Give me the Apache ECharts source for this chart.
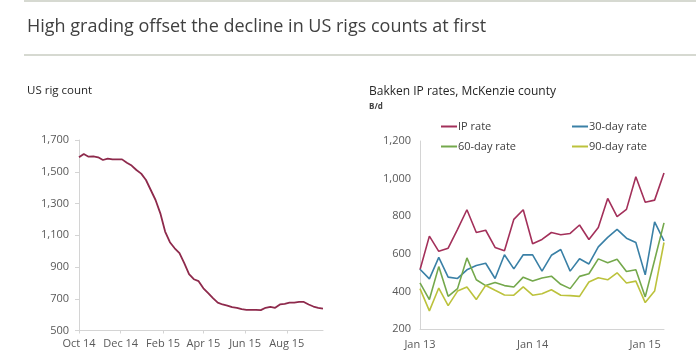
<!DOCTYPE html>
<html><head><meta charset="utf-8">
<script src="https://cdn.jsdelivr.net/npm/echarts@6/dist/echarts.min.js"></script>
<style>html,body{margin:0;padding:0;background:#fff}#c{width:696px;height:361px}</style>
</head><body><div id="c"></div>
<script>
// ---- Left panel: US rig count (weekly) ----
const rigStartDate = '2014-10-01';
const rigCount = [1591,1612,1595,1597,1591,1574,1583,1578,1578,1578,1557,1539,1511,1488,1448,1385,1322,1238,1123,1056,1018,987,924,855,823,811,766,735,704,676,664,657,647,643,634,630,630,630,628,643,649,643,664,668,676,676,680,680,664,651,643,638];
const rigTickDates = ['2014-10-01','2014-12-01','2015-02-01','2015-04-01','2015-06-01','2015-08-01'];
const rigTickLabels = ['Oct 14','Dec 14','Feb 15','Apr 15','Jun 15','Aug 15'];

// ---- Right panel: Bakken IP rates (monthly) ----
const bakkenMonths = ['Jan 13','Feb 13','Mar 13','Apr 13','May 13','Jun 13','Jul 13','Aug 13','Sep 13','Oct 13','Nov 13','Dec 13',
  'Jan 14','Feb 14','Mar 14','Apr 14','May 14','Jun 14','Jul 14','Aug 14','Sep 14','Oct 14','Nov 14','Dec 14',
  'Jan 15','Feb 15','Mar 15'];
const ipRate = [516,695,614,631,731,835,714,726,635,617,784,835,654,677,714,702,709,754,677,740,895,798,837,1010,875,886,1030];
const rate30 = [519,468,582,477,470,516,539,551,470,596,521,596,595,509,593,624,509,575,547,638,688,731,684,661,489,770,670];
const rate60 = [446,358,533,375,416,579,463,432,449,432,425,477,456,472,482,439,416,481,495,574,554,572,507,516,372,568,765];
const rate90 = [416,298,419,326,403,425,358,433,407,382,381,425,381,389,410,381,379,375,451,474,463,500,446,456,342,403,661];

const DAY = 86400000;
const t0 = new Date(rigStartDate + 'T00:00:00Z').getTime();
// x = days since start date
const rigData = rigCount.map((v, i) => [i * 7, v]);
const tickDays = rigTickDates.map(d => Math.round((new Date(d + 'T00:00:00Z').getTime() - t0) / DAY));
const tickLabelOf = {};
tickDays.forEach((t, i) => { tickLabelOf[t] = rigTickLabels[i]; });

const FONT = 'Open Sans';
const labelColor = '#595959';
const axisColor = '#d4d4d4';
const fmt = v => v.toLocaleString('en-US');

const chart = echarts.init(document.getElementById('c'), null, {renderer: 'canvas'});
const legendBase = {
  icon: 'rect', itemWidth: 16, itemHeight: 2, padding: 0,
  textStyle: {fontFamily: FONT, fontSize: 11, color: '#404040', padding: [0, 0, 0, -4]}
};
chart.setOption({
  animation: false,
  textStyle: {fontFamily: FONT},
  title: [
    {text: 'High grading offset the decline in US rigs counts at first', left: 27, top: 18, padding: 0,
     textStyle: {fontFamily: FONT, fontSize: 18, fontWeight: 'normal', color: '#404040'}},
    {text: 'US rig count', left: 27, top: 85, padding: 0,
     textStyle: {fontFamily: FONT, fontSize: 11.5, fontWeight: 'normal', color: '#262626'}},
    {text: 'Bakken IP rates, McKenzie county', left: 369, top: 86, padding: 0,
     textStyle: {fontFamily: FONT, fontSize: 12, fontWeight: 'normal', color: '#262626'}},
    {text: 'B/d', left: 369, top: 103, padding: 0,
     textStyle: {fontFamily: FONT, fontSize: 8, fontWeight: 'bold', color: '#404040'}}
  ],
  graphic: [
    {type: 'line', shape: {x1: 24, y1: 1, x2: 696, y2: 1}, style: {stroke: '#c9ccc2', lineWidth: 1.5}},
    {type: 'line', shape: {x1: 24, y1: 55, x2: 696, y2: 55}, style: {stroke: '#c9ccc2', lineWidth: 1.5}}
  ],
  legend: [
    Object.assign({data: ['IP rate'], left: 441, top: 121}, legendBase),
    Object.assign({data: ['60-day rate'], left: 441, top: 141}, legendBase),
    Object.assign({data: ['30-day rate'], left: 572, top: 121}, legendBase),
    Object.assign({data: ['90-day rate'], left: 572, top: 141}, legendBase)
  ],
  grid: [
    {left: 79, top: 140, width: 244, height: 190.5, containLabel: false},
    {left: 420, top: 141, width: 244, height: 188.3, containLabel: false}
  ],
  xAxis: [
    {type: 'value', gridIndex: 0, min: 0, max: rigData[rigData.length - 1][0],
     axisLine: {lineStyle: {color: axisColor}},
     axisTick: {show: true, length: 3, lineStyle: {color: axisColor}, customValues: tickDays},
     axisLabel: {customValues: tickDays, formatter: v => tickLabelOf[v] || '', color: labelColor, fontSize: 11, fontFamily: FONT, margin: 8},
     splitLine: {show: false}},
    {type: 'category', gridIndex: 1, data: bakkenMonths, boundaryGap: false,
     axisLine: {lineStyle: {color: axisColor}},
     axisTick: {show: false},
     axisLabel: {interval: 11, color: labelColor, fontSize: 11, fontFamily: FONT, margin: 10},
     splitLine: {show: false}}
  ],
  yAxis: [
    {type: 'value', gridIndex: 0, min: 500, max: 1700, interval: 200,
     axisLine: {show: true, lineStyle: {color: axisColor}},
     axisTick: {show: true, length: 4, lineStyle: {color: axisColor}},
     axisLabel: {formatter: fmt, color: labelColor, fontSize: 11, fontFamily: FONT, margin: 10},
     splitLine: {show: false}},
    {type: 'value', gridIndex: 1, min: 200, max: 1200, interval: 200,
     axisLine: {show: true, lineStyle: {color: axisColor}},
     axisTick: {show: false},
     axisLabel: {formatter: fmt, color: labelColor, fontSize: 11, fontFamily: FONT, margin: 9},
     splitLine: {show: false}}
  ],
  series: [
    {name: 'US rig count', type: 'line', xAxisIndex: 0, yAxisIndex: 0, data: rigData,
     showSymbol: false, lineStyle: {color: '#8e2a4c', width: 1.8}, itemStyle: {color: '#8e2a4c'}},
    {name: 'IP rate', type: 'line', xAxisIndex: 1, yAxisIndex: 1, data: ipRate,
     showSymbol: false, lineStyle: {color: '#a3305a', width: 1.6}, itemStyle: {color: '#a3305a'}},
    {name: '30-day rate', type: 'line', xAxisIndex: 1, yAxisIndex: 1, data: rate30,
     showSymbol: false, lineStyle: {color: '#3a80a6', width: 1.6}, itemStyle: {color: '#3a80a6'}},
    {name: '60-day rate', type: 'line', xAxisIndex: 1, yAxisIndex: 1, data: rate60,
     showSymbol: false, lineStyle: {color: '#74a84c', width: 1.6}, itemStyle: {color: '#74a84c'}},
    {name: '90-day rate', type: 'line', xAxisIndex: 1, yAxisIndex: 1, data: rate90,
     showSymbol: false, lineStyle: {color: '#bcc23c', width: 1.6}, itemStyle: {color: '#bcc23c'}}
  ]
});
</script></body></html>
